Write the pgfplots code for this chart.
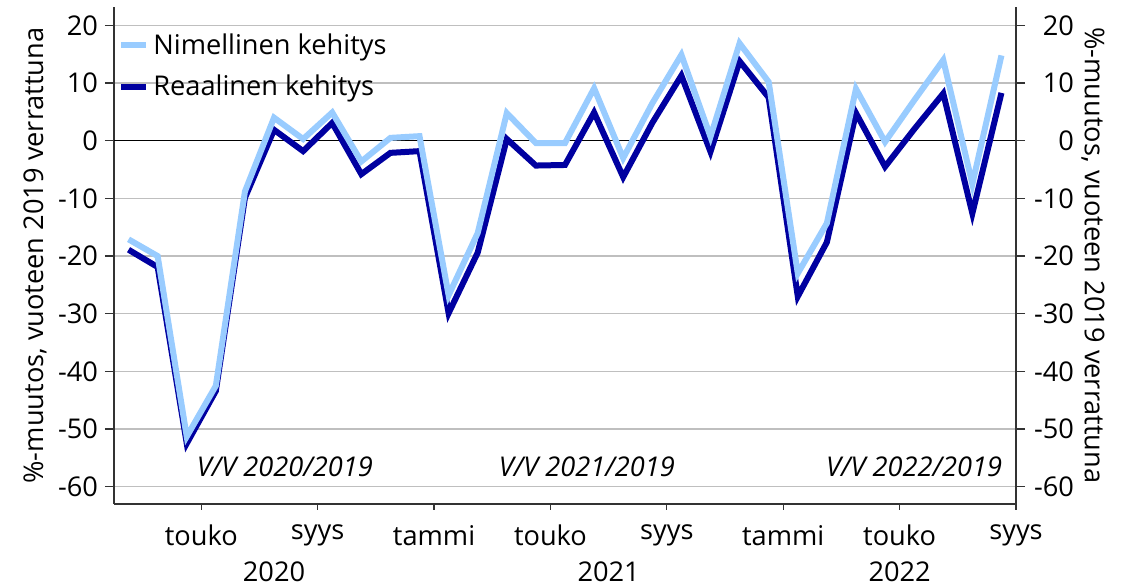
\documentclass[border=0pt]{standalone}
\usepackage{fontspec}
\setmainfont{Open Sans}
\usepackage{pgfplots}
\usepackage{pgfplotstable}
\pgfplotsset{compat=1.18}
\definecolor{lightb}{RGB}{153,204,255}
\definecolor{darkb}{RGB}{0,0,160}
\newcommand{\fs}{\fontsize{13.6pt}{16pt}\selectfont}
\pgfplotstableread{
m nim rea
1.5 -17.1 -18.9
2.5 -20.0 -21.9
3.5 -51.3 -52.5
4.5 -42.5 -43.4
5.5 -8.8 -9.9
6.5 4.0 1.9
7.5 0.3 -1.8
8.5 4.9 3.1
9.5 -3.6 -5.8
10.5 0.5 -2.1
11.5 0.8 -1.8
12.5 -26.8 -29.9
13.5 -16.0 -19.4
14.5 4.8 0.3
15.5 -0.4 -4.3
16.5 -0.4 -4.2
17.5 9.1 4.9
18.5 -3.0 -6.3
19.5 6.5 3.1
20.5 14.9 11.3
21.5 0.7 -1.9
22.5 16.9 13.8
23.5 10.2 7.5
24.5 -23.0 -27.0
25.5 -14.3 -17.6
26.5 9.0 4.8
27.5 -0.2 -4.5
28.5 7.0 2.0
29.5 14.0 8.2
30.5 -7.5 -12.6
31.5 14.8 8.3
}\data
\begin{document}
\begin{tikzpicture}
\useasboundingbox (-57pt,-42pt) rectangle (511pt,252pt);
\begin{axis}[
  scale only axis, width=451pt, height=248.5pt,
  xmin=1, xmax=32, ymin=-63, ymax=23.2,
  axis x line*=bottom, axis y line*=left,
  axis line style={line width=0.6pt, black!80},
  ytick={-60,-50,...,20},
  ymajorgrids, grid style={black!25, line width=0.6pt},
  tick align=outside,
  major tick length=4.5pt,
  tick style={line width=0.6pt, black!80},
  xtick={4,8,16,20,28,32},
  xticklabels={touko,syys,touko,syys,touko,syys},
  xtick style={/pgfplots/major tick length=3pt},
  extra x ticks={12,24},
  extra x tick labels={tammi,tammi},
  extra x tick style={/pgfplots/major tick length=4.5pt},
  xticklabel style={yshift=-2.5pt},
  /pgf/number format/assume math mode=true,
  tick label style={font=\fs},
  every axis y label/.style={at={(axis description cs:0,0.5)}, rotate=90, anchor=center, yshift=39.5pt},
  ylabel={\%-muutos, vuoteen 2019 verrattuna},
  label style={font=\fs},
  legend style={at={(axis description cs:0,1)}, anchor=north west, draw=none, fill=none,
    font=\fs, row sep=5pt, xshift=-1pt, yshift=-9pt},
  legend cell align=left,
  legend image code/.code={\draw[line width=3pt] (0pt,0pt) -- (12.5pt,0pt);},
  reverse legend,
  clip=false,
]
\draw[black, line width=0.7pt] (axis cs:1,0) -- (axis cs:32,0);
\addplot[darkb, line width=3pt] table[x=m, y=rea] {\data};
\addlegendentry{Reaalinen kehitys}
\addplot[lightb, line width=3pt] table[x=m, y=nim] {\data};
\addlegendentry{Nimellinen kehitys}
\node[font=\fs\itshape] at (axis cs:6.87,-56.6) {V/V 2020/2019};
\node[font=\fs\itshape] at (axis cs:17.25,-56.6) {V/V 2021/2019};
\node[font=\fs\itshape] at (axis cs:28.5,-56.6) {V/V 2022/2019};
\node[font=\fs] at (axis cs:6.5,-63) [yshift=-34pt] {2020};
\node[font=\fs] at (axis cs:18,-63) [yshift=-34pt] {2021};
\node[font=\fs] at (axis cs:28,-63) [yshift=-34pt] {2022};
\end{axis}
\begin{axis}[
  scale only axis, width=451pt, height=248.5pt,
  xmin=1, xmax=32, ymin=-63, ymax=23.2,
  axis x line=none, axis y line*=right,
  axis line style={line width=0.6pt, black!80},
  ytick={-60,-50,...,20},
  tick align=outside,
  major tick length=4.5pt,
  tick style={line width=0.6pt, black!80},
  /pgf/number format/assume math mode=true,
  tick label style={font=\fs},
  yticklabel style={anchor=east, xshift=28pt},
  every axis y label/.style={at={(axis description cs:1,0.5)}, rotate=-90, anchor=center, yshift=38.5pt},
  ylabel={\%-muutos, vuoteen 2019 verrattuna},
  label style={font=\fs},
]
\end{axis}
\end{tikzpicture}
\end{document}
